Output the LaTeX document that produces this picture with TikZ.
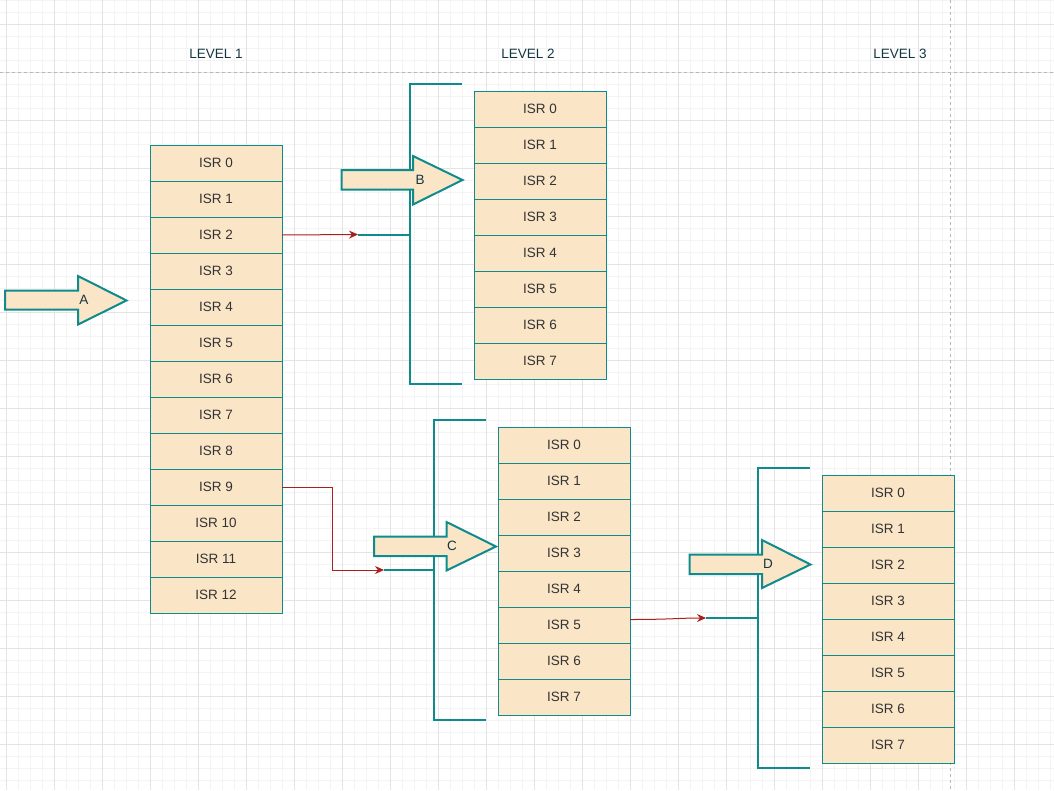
\documentclass[tikz,border=0pt]{standalone}
\usepackage{fontspec}
\setmainfont{Liberation Sans}
\usetikzlibrary{arrows.meta}
\definecolor{boxfill}{HTML}{FAE5C7}
\definecolor{teal1}{HTML}{0F8B8D}
\definecolor{txt}{HTML}{333333}
\definecolor{lvl}{HTML}{143642}
\definecolor{redln}{HTML}{A8201A}
\definecolor{gmaj}{HTML}{E4E4E4}
\definecolor{gmin}{HTML}{F4F4F4}
\tikzset{
  isr/.style={draw=teal1, fill=boxfill, line width=1pt, minimum width=132pt, minimum height=36pt,
    inner sep=0pt, outer sep=0pt, anchor=north west, font=\fontsize{13.5pt}{15pt}\selectfont, text=txt},
  lvlabel/.style={font=\fontsize{13.5pt}{15pt}\selectfont, text=lvl},
  brk/.style={draw=teal1, line width=2pt},
  blockarrow/.style={draw=teal1, fill=boxfill, line width=2pt, line join=miter},
  arlabel/.style={font=\fontsize{13.5pt}{15pt}\selectfont, text=lvl},
  redarrow/.style={draw=redln, line width=1pt, -{Stealth[length=9pt,width=8pt]}},
  dashln/.style={draw=black!28, dashed, line width=0.6pt}
}
\begin{document}
\begin{tikzpicture}[x=1pt,y=-1pt]
\useasboundingbox (0,0) rectangle (1054,790);
\fill[white] (0,0) rectangle (1054,790);
% grid
\foreach \i in {0,...,88} { \draw[gmin, line width=0.6pt] ({6.3+12*\i},0) -- ({6.3+12*\i},790); }
\foreach \i in {0,...,66} { \draw[gmin, line width=0.6pt] (0,{0.3+12*\i}) -- (1054,{0.3+12*\i}); }
\foreach \i in {0,...,21} { \draw[gmaj, line width=0.8pt] ({6.3+48*\i},0) -- ({6.3+48*\i},790); }
\foreach \i in {0,...,16} { \draw[gmaj, line width=0.8pt] (0,{24.3+48*\i}) -- (1054,{24.3+48*\i}); }
% dashed separators
\draw[dashln] (0,72) -- (1054,72);
\draw[dashln] (950,0) -- (950,790);
% level labels
\node[lvlabel] (lv1) at (216,54) {LEVEL 1};
\node[lvlabel] (lv2) at (528,54) {LEVEL 2};
\node[lvlabel] (lv3) at (900,54) {LEVEL 3};
% columns
\foreach \i in {0,...,12} { \node[isr] (a\i) at (150,{145+36*\i}) {ISR \i}; }
\foreach \i in {0,...,7} { \node[isr] (b\i) at (474,{91+36*\i}) {ISR \i}; }
\foreach \i in {0,...,7} { \node[isr] (c\i) at (498,{427+36*\i}) {ISR \i}; }
\foreach \i in {0,...,7} { \node[isr] (d\i) at (822,{475+36*\i}) {ISR \i}; }
% brackets
\coordinate (bIn) at (358,234.5);
\coordinate (cIn) at (384,570);
\coordinate (dIn) at (706,618);
\draw[brk] (462,84) -- (410,84) -- (410,384) -- (462,384);
\draw[brk] (bIn) -- (410,234.5);
\draw[brk] (486,420) -- (434,420) -- (434,720) -- (486,720);
\draw[brk] (cIn) -- (434,570);
\draw[brk] (810,468) -- (758,468) -- (758,768) -- (810,768);
\draw[brk] (dIn) -- (758,618);
% red connectors
\draw[redarrow] (a2.east) -- (bIn);
\draw[redarrow] (a9.east) -- (332,487) -- (332,570) -- (cIn);
\draw[redarrow] (c5.east |- 0,619.5) .. controls (670,619.5) and (680,618) .. (dIn);
% block arrows
\draw[blockarrow] (5,290.5) -- (78,290.5) -- (78,276) -- (126.5,300.5) -- (78,324.5) -- (78,309.5) -- (5,309.5) -- cycle;
\node[arlabel] (A) at (84,300) {A};
\draw[blockarrow] (341.5,170) -- (413,170) -- (413,156) -- (462.5,180) -- (413,204.5) -- (413,189.5) -- (341.5,189.5) -- cycle;
\node[arlabel] (B) at (420,180) {B};
\draw[blockarrow] (374,536.5) -- (446.5,536.5) -- (446.5,522) -- (496,546.5) -- (446.5,570.5) -- (446.5,556) -- (374,556) -- cycle;
\node[arlabel] (C) at (452,546) {C};
\draw[blockarrow] (689.5,554.5) -- (762,554.5) -- (762,540) -- (810.5,564.5) -- (762,588) -- (762,574) -- (689.5,574) -- cycle;
\node[arlabel] (D) at (768,564) {D};
\end{tikzpicture}
\end{document}
